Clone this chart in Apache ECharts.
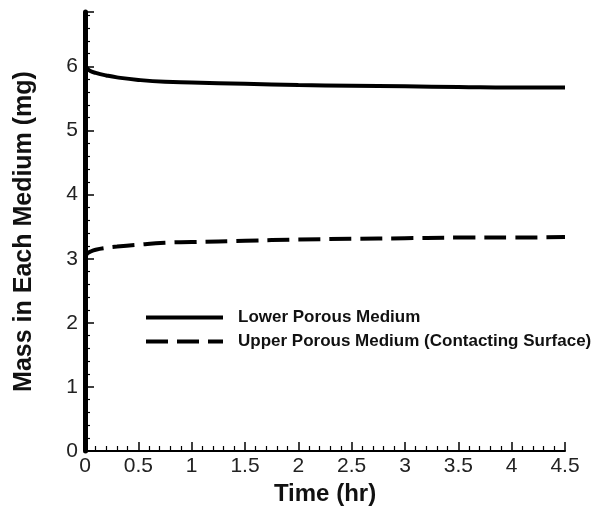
<!DOCTYPE html>
<html>
<head>
<meta charset="utf-8">
<script src="https://cdn.jsdelivr.net/npm/echarts@6/dist/echarts.min.js"></script>
<style>html,body{margin:0;padding:0;background:#fff;}#c{width:593px;height:511px;}</style>
</head>
<body>
<div id="c"></div>
<script>
var timeHr = [0, 0.02, 0.05, 0.1, 0.2, 0.3, 0.5, 0.75, 1, 1.5, 2, 2.5, 3, 3.5, 4, 4.5];
var lowerMass = [6.02, 5.97, 5.93, 5.90, 5.86, 5.83, 5.79, 5.76, 5.75, 5.73, 5.71, 5.70, 5.69, 5.68, 5.67, 5.67];
var upperMass = [3.02, 3.08, 3.11, 3.14, 3.17, 3.19, 3.22, 3.25, 3.26, 3.28, 3.30, 3.31, 3.32, 3.33, 3.33, 3.34];
var seriesNames = ['Lower Porous Medium', 'Upper Porous Medium (Contacting Surface)'];
var xTickLabels = ['0', '0.5', '1', '1.5', '2', '2.5', '3', '3.5', '4', '4.5'];
var yTickLabels = ['0', '1', '2', '3', '4', '5', '6'];

function pairs(xs, ys) { return xs.map(function (x, i) { return [x, ys[i]]; }); }

var chart = echarts.init(document.getElementById('c'), null, {renderer: 'canvas'});
var font = 'Liberation Sans, Arial, sans-serif';
chart.setOption({
  animation: false,
  backgroundColor: '#fff',
  grid: {left: 85, right: 28, top: 12, bottom: 59, containLabel: false},
  legend: {
    orient: 'vertical', left: 144, top: 309, padding: 0,
    itemWidth: 77, itemHeight: 14, itemGap: 7,
    itemStyle: {opacity: 0},
    lineStyle: {width: 4},
    textStyle: {fontFamily: font, fontWeight: 'bold', fontSize: 17, color: '#111', padding: [0, 0, 0, 10]},
    data: seriesNames
  },
  xAxis: {
    type: 'value', min: 0, max: 4.5, interval: 0.5,
    name: 'Time (hr)', nameLocation: 'middle', nameGap: 31,
    nameTextStyle: {fontFamily: font, fontWeight: 'bold', fontSize: 24, color: '#111'},
    axisLine: {show: true, onZero: false, lineStyle: {color: '#000', width: 2}},
    axisTick: {show: true, inside: true, length: 9, lineStyle: {color: '#000', width: 1.5}},
    minorTick: {show: true, splitNumber: 5, length: 5, lineStyle: {color: '#000', width: 1.2}},
    splitLine: {show: false},
    axisLabel: {fontFamily: font, fontSize: 21, color: '#222', margin: 5,
      formatter: function (v) { var i = Math.round(v / 0.5); return Math.abs(v - i * 0.5) < 1e-6 ? (xTickLabels[i] || '') : ''; }}
  },
  yAxis: {
    type: 'value', min: 0, max: 6.85, interval: 1,
    name: 'Mass in Each Medium (mg)', nameLocation: 'middle', nameGap: 48,
    nameTextStyle: {fontFamily: font, fontWeight: 'bold', fontSize: 25, color: '#111'},
    axisLine: {show: true, onZero: false, lineStyle: {color: '#000', width: 5}},
    axisTick: {show: true, inside: true, length: 9, lineStyle: {color: '#000', width: 1.5}},
    minorTick: {show: true, splitNumber: 5, length: 5, lineStyle: {color: '#000', width: 1.2}},
    splitLine: {show: false},
    axisLabel: {fontFamily: font, fontSize: 21, color: '#222', margin: 7, showMaxLabel: false,
      formatter: function (v) { var i = Math.round(v); return Math.abs(v - i) < 1e-6 ? (yTickLabels[i] || '') : ''; }}
  },
  series: [
    {name: seriesNames[0], type: 'line', data: pairs(timeHr, lowerMass), smooth: true, symbol: 'none',
      lineStyle: {color: '#000', width: 4, type: 'solid'}, itemStyle: {color: '#000'}},
    {name: seriesNames[1], type: 'line', data: pairs(timeHr, upperMass), smooth: true, symbol: 'none',
      lineStyle: {color: '#000', width: 4, type: [22, 9]}, itemStyle: {color: '#000'}}
  ]
});
</script>
</body>
</html>
